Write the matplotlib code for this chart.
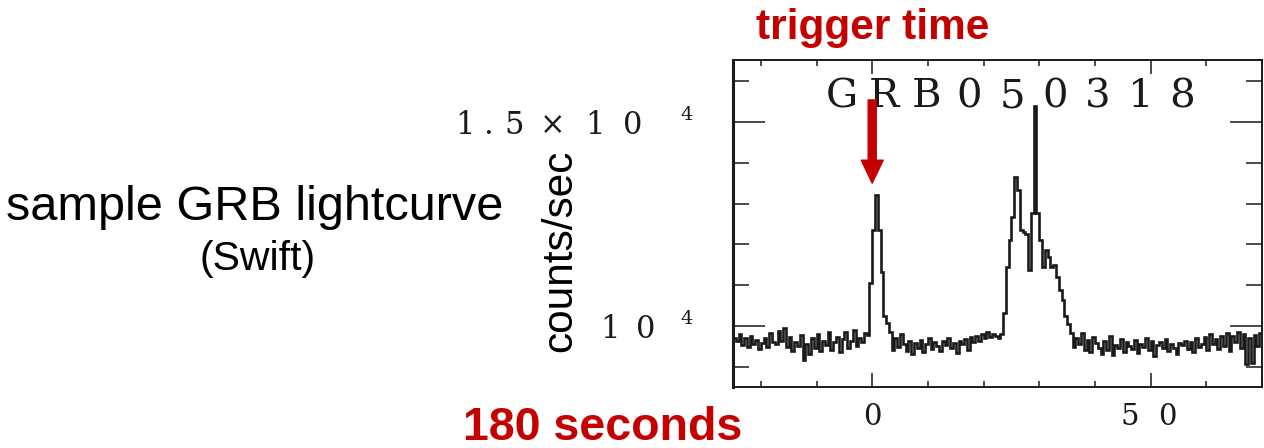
import numpy as np
import matplotlib
matplotlib.use('Agg')
import matplotlib.pyplot as plt
from matplotlib.ticker import FixedLocator, MultipleLocator, NullFormatter
from matplotlib.transforms import offset_copy

# BAT rate, 0.5 s bins starting at t = -25 s (counts/sec)
t_start = -25.0
bin_width = 0.5
counts = [
    # -25.0 .. -1.5 s
    9700, 9620, 9810, 9540, 9690, 9480, 9760, 9560, 9650, 9420,
    9590, 9700, 9480, 9830, 9600, 9550, 9880, 9640, 9950, 9470,
    9720, 9390, 9610, 9500, 9780, 9160, 9560, 9320, 9700, 9450,
    9810, 9380, 9640, 9520, 9860, 9410, 9600, 9730, 9350, 9680,
    9860, 9450, 9620, 9900, 9500, 9700, 9610, 9820,
    # first pulse, -1.0 .. 3.5 s
    9780, 11050, 12350, 13210, 12350, 11330, 10230, 10070, 9860, 9410,
    # 4.0 .. 22.5 s
    9700, 9480, 9800, 9550, 9380, 9620, 9300, 9580, 9460, 9650,
    9350, 9560, 9700, 9420, 9600, 9500, 9380, 9640, 9520, 9700,
    9450, 9580, 9330, 9620, 9560, 9680, 9400, 9720, 9600, 9750,
    9640, 9800, 9700, 9860, 9720, 9800, 9760, 9700,
    # second pulse, 23.0 .. 36.0 s
    9800, 10320, 11450, 12100, 12680, 13660, 13330, 12350, 12300, 12250,
    11370, 12770, 15400, 12770, 12110, 11450, 11860, 11700, 11450, 11500,
    11210, 10880, 10640, 10230, 10050, 9830, 9490,
    # 36.5 .. 69.5 s
    9700, 9550, 9820, 9400, 9650, 9350, 9720, 9580, 9460, 9300,
    9620, 9410, 9750, 9280, 9540, 9460, 9680, 9370, 9600, 9500,
    9420, 9650, 9330, 9560, 9480, 9700, 9400, 9620, 9250, 9540,
    9610, 9450, 9680, 9380, 9560, 9460, 9300, 9580, 9520, 9640,
    9440, 9600, 9350, 9700, 9480, 9560, 9720, 9400, 9800, 9550,
    9680, 9420, 9760, 9500, 9820, 9380, 9740, 9600, 9860, 9450,
    9800, 9060, 9700, 9080, 9780, 9500, 9820,
]

x_major = [0, 50]
x_labels = ['0', '50']
y_major = [10000, 15000]
y_mantissa = ['10', '1.5×10']
y_exponent = '4'
grb_name = 'GRB050318'

red = '#c40000'
sans = 'Liberation Sans'
serif = 'DejaVu Serif'
ink = '#1a1a1a'

edges = t_start + bin_width * np.arange(len(counts) + 1)

fig = plt.figure(figsize=(12.64, 4.48), dpi=100)
ax = fig.add_axes([733 / 1264, 61 / 448, 529 / 1264, 327 / 448])

ax.stairs(counts, edges, color=ink, lw=1.9)
ax.set_xlim(-25, 70)
ax.set_ylim(8500, 16520)

ax.xaxis.set_major_locator(FixedLocator(x_major))
ax.xaxis.set_minor_locator(MultipleLocator(10))
ax.yaxis.set_major_locator(FixedLocator(y_major))
ax.yaxis.set_minor_locator(MultipleLocator(1000))
ax.xaxis.set_major_formatter(NullFormatter())
ax.yaxis.set_major_formatter(NullFormatter())
ax.tick_params(which='both', direction='in', top=True, right=True, color=ink, width=1.1)
ax.tick_params(axis='x', which='major', length=10)
ax.tick_params(axis='x', which='minor', length=4.5)
ax.tick_params(axis='y', which='major', length=23)
ax.tick_params(axis='y', which='minor', length=11.5)
for side, sp in ax.spines.items():
    sp.set_color(ink)
    sp.set_linewidth(2.2 if side == 'left' else 1.4)


def spaced(trans, x, y, chars, offsets, dy, size):
    # one glyph per text, spread out like the old plotting-package font
    for ch, dx in zip(chars, offsets):
        ax.text(x, y, ch, transform=offset_copy(trans, fig=fig, x=dx, y=dy, units='dots'),
                ha='center', va='center', fontsize=size, family=serif, color=ink)


# y tick labels
ytrans = ax.get_yaxis_transform()
y_offsets = {'10': [-123, -87], '1.5×10': [-268, -245, -219, -180, -138, -100]}
for val, mant in zip(y_major, y_mantissa):
    spaced(ytrans, 0, val, mant, y_offsets[mant], -4, 22)
    spaced(ytrans, 0, val, y_exponent, [-46], 7, 14)

# x tick labels
xtrans = ax.get_xaxis_transform()
x_offsets = {'0': [0], '50': [-21, 17]}
for val, lab in zip(x_major, x_labels):
    spaced(xtrans, val, 0, lab, x_offsets[lab], -30, 21)

# burst name along the top
spaced(ax.transAxes, 0, 0.887, grb_name, [108.7 + 42.6 * i for i in range(len(grb_name))], 0, 29)

# trigger arrow
ax.annotate('', xy=(0, 13500), xytext=(0, 15540),
            arrowprops=dict(arrowstyle='simple,head_length=16.5,head_width=15.8,tail_width=5.8',
                            mutation_scale=1, color=red, shrinkA=0, shrinkB=0),
            annotation_clip=False)

ax.set_ylabel('counts/sec', family=sans, fontsize=30.5, labelpad=0)
ax.yaxis.set_label_coords(580 / 1264, 197 / 448, transform=fig.transFigure)

fig.text(873 / 1264, 1 - 39 / 448, 'trigger time', family=sans, fontsize=30.5,
         fontweight='bold', color=red, ha='center', va='baseline')
fig.text(603 / 1264, 1 - 440 / 448, '180 seconds', family=sans, fontsize=33.5,
         fontweight='bold', color=red, ha='center', va='baseline')
fig.text(255 / 1264, 1 - 220 / 448, 'sample GRB lightcurve', family=sans, fontsize=35,
         color='black', ha='center', va='baseline')
fig.text(258 / 1264, 1 - 270 / 448, '(Swift)', family=sans, fontsize=29.5,
         color='black', ha='center', va='baseline')

fig.savefig('out.png', dpi=100)
